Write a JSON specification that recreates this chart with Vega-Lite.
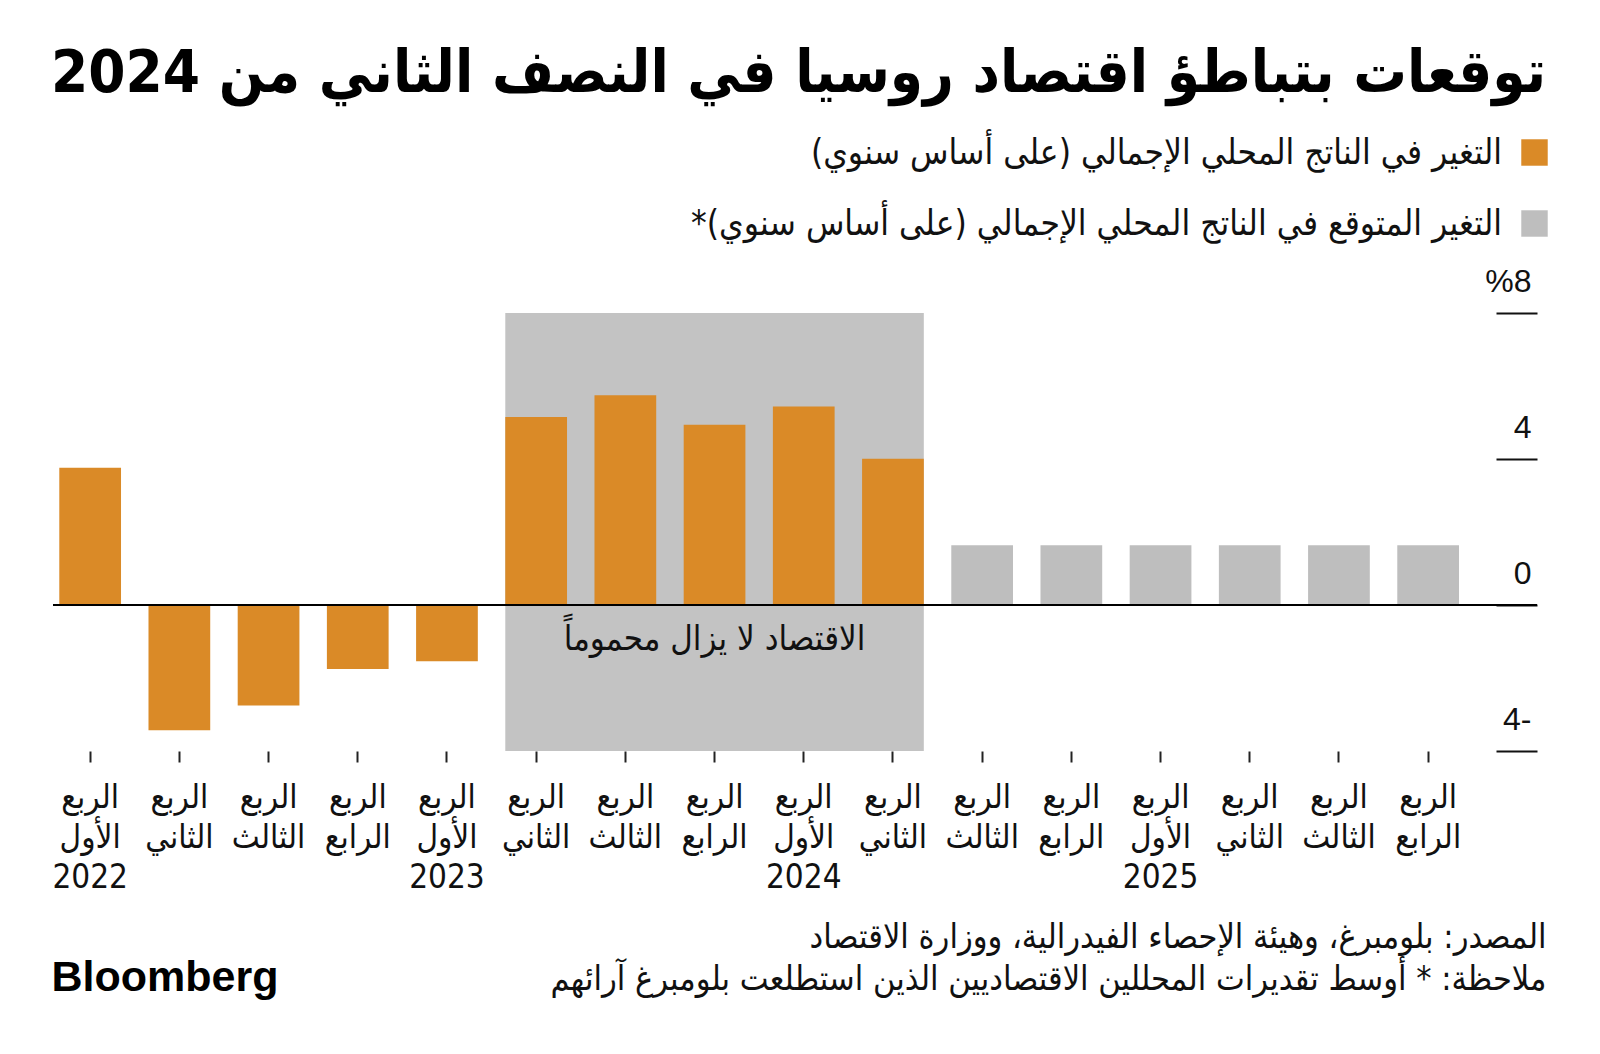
{
  "$schema": "https://vega.github.io/schema/vega-lite/v6.json",
  "width": 1484,
  "height": 438,
  "autosize": {"type": "none"},
  "padding": {"left": 53, "top": 313, "right": 63, "bottom": 303},
  "background": "white",
  "title": {
    "text": "\u200fتوقعات بتباطؤ اقتصاد روسيا في النصف الثاني من 2024",
    "anchor": "end",
    "frame": "group",
    "orient": "top",
    "font": "DejaVu Sans Condensed, DejaVu Sans",
    "fontSize": 59.5,
    "fontWeight": "bold",
    "color": "#000000",
    "offset": 31,
    "dx": 9
  },
  "datasets": {
    "gdp": [
      {"q": "2022 Q1", "v": 3.76, "type": "\u200fالتغير في الناتج المحلي الإجمالي (على أساس سنوي)\u200f"},
      {"q": "2022 Q2", "v": -3.43, "type": "\u200fالتغير في الناتج المحلي الإجمالي (على أساس سنوي)\u200f"},
      {"q": "2022 Q3", "v": -2.75, "type": "\u200fالتغير في الناتج المحلي الإجمالي (على أساس سنوي)\u200f"},
      {"q": "2022 Q4", "v": -1.75, "type": "\u200fالتغير في الناتج المحلي الإجمالي (على أساس سنوي)\u200f"},
      {"q": "2023 Q1", "v": -1.54, "type": "\u200fالتغير في الناتج المحلي الإجمالي (على أساس سنوي)\u200f"},
      {"q": "2023 Q2", "v": 5.15, "type": "\u200fالتغير في الناتج المحلي الإجمالي (على أساس سنوي)\u200f"},
      {"q": "2023 Q3", "v": 5.75, "type": "\u200fالتغير في الناتج المحلي الإجمالي (على أساس سنوي)\u200f"},
      {"q": "2023 Q4", "v": 4.94, "type": "\u200fالتغير في الناتج المحلي الإجمالي (على أساس سنوي)\u200f"},
      {"q": "2024 Q1", "v": 5.44, "type": "\u200fالتغير في الناتج المحلي الإجمالي (على أساس سنوي)\u200f"},
      {"q": "2024 Q2", "v": 4.01, "type": "\u200fالتغير في الناتج المحلي الإجمالي (على أساس سنوي)\u200f"},
      {"q": "2024 Q3", "v": 1.64, "type": "\u200fالتغير المتوقع في الناتج المحلي الإجمالي (على أساس سنوي)*\u200f"},
      {"q": "2024 Q4", "v": 1.64, "type": "\u200fالتغير المتوقع في الناتج المحلي الإجمالي (على أساس سنوي)*\u200f"},
      {"q": "2025 Q1", "v": 1.64, "type": "\u200fالتغير المتوقع في الناتج المحلي الإجمالي (على أساس سنوي)*\u200f"},
      {"q": "2025 Q2", "v": 1.64, "type": "\u200fالتغير المتوقع في الناتج المحلي الإجمالي (على أساس سنوي)*\u200f"},
      {"q": "2025 Q3", "v": 1.64, "type": "\u200fالتغير المتوقع في الناتج المحلي الإجمالي (على أساس سنوي)*\u200f"},
      {"q": "2025 Q4", "v": 1.64, "type": "\u200fالتغير المتوقع في الناتج المحلي الإجمالي (على أساس سنوي)*\u200f"}
    ],
    "shade": [{"s": "2023 Q2", "e": "2024 Q2"}],
    "note": [{"q": "2023 Q4", "t": "\u200fالاقتصاد لا يزال محموماً\u200f"}],
    "zero": [{"z": 0}]
  },
  "layer": [
    {
      "data": {"name": "gdp"},
      "mark": {"type": "bar", "opacity": 0},
      "encoding": {
        "x": {
          "field": "q",
          "type": "ordinal",
          "scale": {
            "domain": ["2022 Q1", "2022 Q2", "2022 Q3", "2022 Q4", "2023 Q1", "2023 Q2", "2023 Q3", "2023 Q4", "2024 Q1", "2024 Q2", "2024 Q3", "2024 Q4", "2025 Q1", "2025 Q2", "2025 Q3", "2025 Q4"],
            "paddingInner": 0.308,
            "paddingOuter": 0.4725,
            "align": 0.0747
          },
          "axis": {
            "domain": false,
            "grid": false,
            "ticks": true,
            "tickSize": 11,
            "tickWidth": 2,
            "tickColor": "#222222",
            "labelExpr": "['الربع', slice(datum.value,5)=='Q1' ? 'الأول' : slice(datum.value,5)=='Q2' ? 'الثاني' : slice(datum.value,5)=='Q3' ? 'الثالث' : 'الرابع', slice(datum.value,5)=='Q1' ? slice(datum.value,0,4) : '']",
            "labelAngle": 0,
            "labelAlign": "center",
            "labelBaseline": "top",
            "labelPadding": 19,
            "labelFont": "Liberation Sans Narrow, DejaVu Sans Condensed, DejaVu Sans",
            "labelFontSize": 33,
            "labelLineHeight": 40,
            "labelColor": "#111111",
            "labelOverlap": false,
            "labelFlush": false,
            "title": [
              "\u200fالمصدر: بلومبرغ، وهيئة الإحصاء الفيدرالية، ووزارة الاقتصاد\u200f",
              "\u200fملاحظة: * أوسط تقديرات المحللين الاقتصاديين الذين استطلعت بلومبرغ آرائهم\u200f"
            ],
            "titleX": 1493,
            "titleY": 186,
            "titleAngle": 0,
            "titleAlign": "right",
            "titleBaseline": "middle",
            "titleLineHeight": 42,
            "titleFont": "DejaVu Sans Condensed, DejaVu Sans",
            "titleFontSize": 34,
            "titleFontWeight": "normal",
            "titleColor": "#111111"
          }
        },
        "y": {
          "field": "v",
          "type": "quantitative",
          "scale": {"domain": [-4, 8], "nice": false, "zero": false},
          "axis": {
            "orient": "right",
            "domain": false,
            "grid": false,
            "ticks": true,
            "tickSize": -41,
            "tickWidth": 2,
            "tickColor": "#111111",
            "values": [-4, 0, 4, 8],
            "labelExpr": "datum.value == 8 ? '%8' : datum.value < 0 ? (-datum.value) + '-' : datum.label",
            "labelAlign": "right",
            "labelBaseline": "middle",
            "labelOffset": -32,
            "labelPadding": 35,
            "labelFont": "Liberation Sans",
            "labelFontSize": 32,
            "labelColor": "#111111",
            "labelFlush": false,
            "labelOverlap": false,
            "title": "Bloomberg",
            "titleX": -1486,
            "titleY": 664,
            "titleAngle": 0,
            "titleAlign": "left",
            "titleBaseline": "middle",
            "titleFont": "Liberation Sans",
            "titleFontWeight": "bold",
            "titleFontSize": 43,
            "titleColor": "#000000"
          }
        }
      }
    },
    {
      "data": {"name": "shade"},
      "mark": {"type": "rect", "color": "#C3C3C3"},
      "encoding": {
        "x": {"field": "s", "type": "ordinal", "bandPosition": 0},
        "x2": {"field": "e", "bandPosition": 1},
        "y": {"datum": 8, "type": "quantitative"},
        "y2": {"datum": -4}
      }
    },
    {
      "data": {"name": "gdp"},
      "mark": {"type": "bar"},
      "encoding": {
        "x": {"field": "q", "type": "ordinal"},
        "y": {"field": "v", "type": "quantitative"},
        "color": {
          "field": "type",
          "type": "nominal",
          "scale": {
            "domain": ["\u200fالتغير في الناتج المحلي الإجمالي (على أساس سنوي)\u200f", "\u200fالتغير المتوقع في الناتج المحلي الإجمالي (على أساس سنوي)*\u200f"],
            "range": ["#DA8A27", "#BEBEBE"]
          },
          "legend": {
            "orient": "none",
            "legendX": 1464,
            "legendY": -178,
            "title": null,
            "direction": "vertical",
            "symbolType": "square",
            "symbolSize": 700,
            "symbolStrokeWidth": 0,
            "symbolOpacity": 1,
            "labelAlign": "right",
            "labelOffset": -50,
            "labelFont": "DejaVu Sans Condensed, DejaVu Sans",
            "labelFontSize": 35,
            "labelColor": "#111111",
            "labelLimit": 1200,
            "rowPadding": 35
          }
        }
      }
    },
    {
      "data": {"name": "zero"},
      "mark": {"type": "rule", "color": "#000000", "strokeWidth": 2},
      "encoding": {
        "y": {"field": "z", "type": "quantitative"}
      }
    },
    {
      "data": {"name": "note"},
      "mark": {"type": "text", "font": "DejaVu Sans Condensed, DejaVu Sans", "fontSize": 34.5, "color": "#111111", "align": "center", "baseline": "middle"},
      "encoding": {
        "x": {"field": "q", "type": "ordinal"},
        "y": {"datum": -0.95, "type": "quantitative"},
        "text": {"field": "t"}
      }
    }
  ],
  "config": {
    "view": {"stroke": null},
    "axis": {"grid": false}
  }
}
